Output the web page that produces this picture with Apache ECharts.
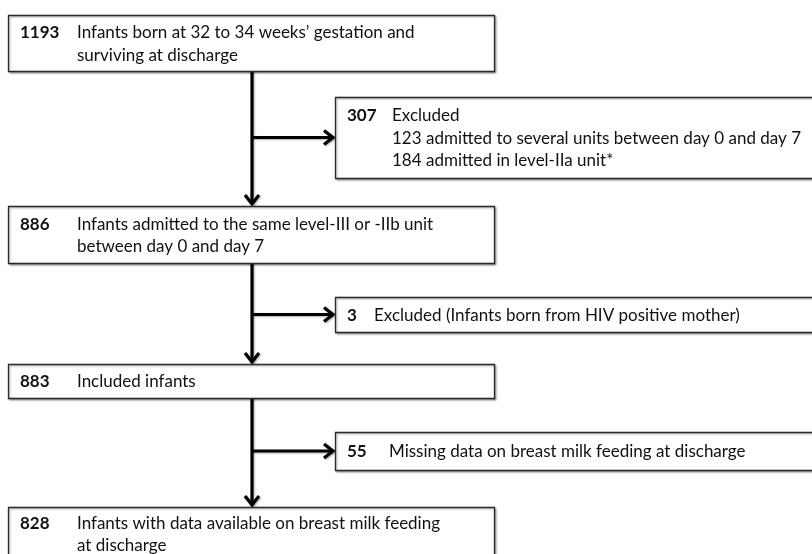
<!DOCTYPE html>
<html>
<head>
<meta charset="utf-8">
<script src="https://cdn.jsdelivr.net/npm/echarts@6/dist/echarts.min.js"></script>
<style>
  html, body { margin: 0; padding: 0; background: #fff; }
  #chart { width: 812px; height: 554px; }
</style>
</head>
<body>
<div id="chart"></div>
<script>
  // flow counts
  var counts = [1193, 307, 886, 3, 883, 55, 828];
  var descriptions = [
    ['Infants born at 32 to 34 weeks\u2019 gestation and', 'surviving at discharge'],
    ['Excluded', '123 admitted to several units between day 0 and day 7', '184 admitted in level-IIa unit*'],
    ['Infants admitted to the same level-III or -IIb unit', 'between day 0 and day 7'],
    ['Excluded (Infants born from HIV positive mother)'],
    ['Included infants'],
    ['Missing data on breast milk feeding at discharge'],
    ['Infants with data available on breast milk feeding', 'at discharge']
  ];
  // main box -> excluded box -> next main box
  var steps = [[0, 1, 2], [2, 3, 4], [4, 5, 6]];

  // layout, in the hidden 812 x 554 axis space
  var boxLeft = [8, 335, 8, 335, 8, 335, 8];
  var boxRight = [494, 830, 494, 830, 494, 830, 494];
  var boxTop = [15, 97, 206, 297, 364, 432, 507];
  var boxBottom = [71, 178, 263, 332, 398, 470, 560];
  var textIndent = [69, 57, 69, 39, 69, 54, 69];
  var stemX = 252;
  var lineH = 22.5;
  var fontFamily = 'Lato';
  var fontSize = 17;

  var chart = echarts.init(document.getElementById('chart'));

  function boxItem(params, api) {
    var i = params.dataIndex;
    var p0 = api.coord([api.value(0), api.value(1)]);
    var p1 = api.coord([api.value(2), api.value(3)]);
    var lines = descriptions[i];
    var cy = (p0[1] + p1[1]) / 2 + 1;
    var y0 = cy - (lines.length - 1) * lineH / 2;
    var children = [{
      type: 'rect',
      shape: { x: p0[0] + 0.5, y: p0[1] + 0.5, width: p1[0] - p0[0], height: p1[1] - p0[1] },
      style: { fill: '#fff', stroke: '#2a2a2a', lineWidth: 1.3, shadowBlur: 2, shadowColor: 'rgba(0,0,0,0.35)', shadowOffsetX: 1, shadowOffsetY: 1 }
    }, {
      type: 'text',
      style: {
        text: String(api.value(4)), x: p0[0] + 12, y: y0,
        fontFamily: fontFamily, fontWeight: 'bold', fontSize: fontSize, fill: '#111',
        align: 'left', verticalAlign: 'middle'
      }
    }];
    lines.forEach(function (t, k) {
      children.push({
        type: 'text',
        style: {
          text: t, x: p0[0] + textIndent[i], y: y0 + k * lineH,
          fontFamily: fontFamily, fontSize: fontSize, fill: '#111',
          align: 'left', verticalAlign: 'middle'
        }
      });
    });
    return { type: 'group', children: children };
  }

  function arrowItem(params, api) {
    var s = steps[params.dataIndex];
    var top = api.coord([stemX, boxBottom[s[0]]]);
    var tip = api.coord([stemX, boxTop[s[2]] - 1]);
    var mid = (boxTop[s[1]] + boxBottom[s[1]]) / 2;
    var b0 = api.coord([stemX, mid]);
    var b1 = api.coord([boxLeft[s[1]] - 1, mid]);
    var st = { stroke: '#000', lineWidth: 3.2, fill: null, lineJoin: 'miter',
      shadowBlur: 2, shadowColor: 'rgba(0,0,0,0.3)', shadowOffsetX: 1, shadowOffsetY: 1 };
    return {
      type: 'group',
      children: [
        { type: 'line', shape: { x1: top[0], y1: top[1], x2: tip[0], y2: tip[1] - 1 }, style: st },
        { type: 'polyline', shape: { points: [[tip[0] - 7, tip[1] - 10], [tip[0], tip[1] - 1], [tip[0] + 7, tip[1] - 10]] }, style: st },
        { type: 'line', shape: { x1: b0[0], y1: b0[1], x2: b1[0] - 1, y2: b1[1] }, style: st },
        { type: 'polyline', shape: { points: [[b1[0] - 10, b1[1] - 7], [b1[0] - 1, b1[1]], [b1[0] - 10, b1[1] + 7]] }, style: st }
      ]
    };
  }

  var option = {
    backgroundColor: '#fff',
    animation: false,
    grid: { left: 0, right: 0, top: 0, bottom: 0 },
    xAxis: { type: 'value', min: 0, max: 812, show: false },
    yAxis: { type: 'value', min: 0, max: 554, inverse: true, show: false },
    series: [{
      type: 'custom',
      renderItem: arrowItem,
      clip: false,
      z: 1,
      data: steps.map(function (s) { return [stemX, boxBottom[s[0]]]; })
    }, {
      type: 'custom',
      renderItem: boxItem,
      clip: false,
      z: 2,
      encode: { x: [0, 2], y: [1, 3] },
      data: counts.map(function (c, i) { return [boxLeft[i], boxTop[i], boxRight[i], boxBottom[i], c]; })
    }]
  };

  chart.setOption(option);
</script>
</body>
</html>
